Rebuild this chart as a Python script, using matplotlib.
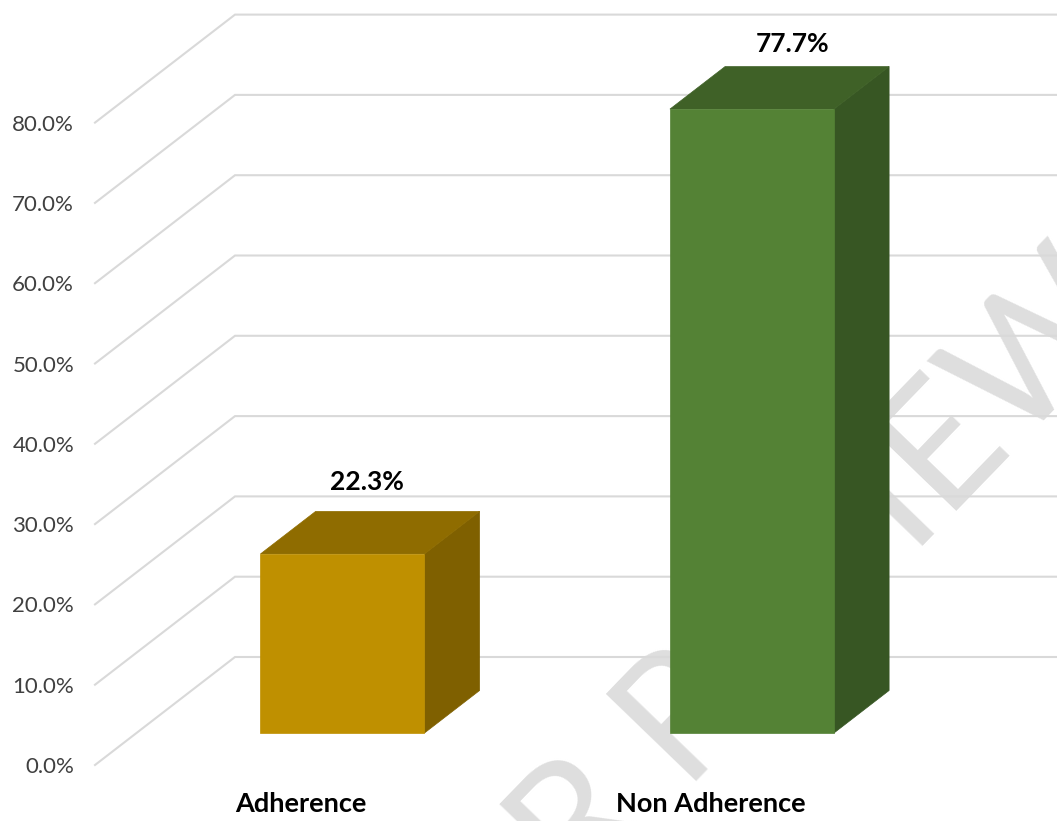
"""3D-look column chart: adherence vs non adherence."""

import matplotlib
matplotlib.use("Agg")
import matplotlib.pyplot as plt
from matplotlib.patches import Polygon

# --------------------------------------------------------------------------
# Data
# --------------------------------------------------------------------------
categories = ["Adherence", "Non Adherence"]
values = [22.3, 77.7]
value_labels = ["22.3%", "77.7%"]
y_ticks = [0, 10, 20, 30, 40, 50, 60, 70, 80]
y_tick_labels = ["0.0%", "10.0%", "20.0%", "30.0%", "40.0%", "50.0%", "60.0%", "70.0%", "80.0%"]

# --------------------------------------------------------------------------
# Config
# --------------------------------------------------------------------------
W, H = 1057, 821
X_UNIT = 409.5      # px per category
Y_UNIT = 8.03       # px per percentage point
X0_PX, Y0_PX = 301, 765   # where category 0 / 0% sit on the front plane
DEPTH_X = 140 / X_UNIT    # floor depth as data offset
DEPTH_Y = 108 / Y_UNIT
BAR_WIDTH = 164 / X_UNIT
BAR_NEAR, BAR_FAR = 0.296, 0.69
AXIS_LEFT = (95 - X0_PX) / X_UNIT

# data labels are not quite centred over the bars in the original
label_dx = [-3 / X_UNIT, 13 / X_UNIT]
label_dy = [4.8, 4.0]

front_colors = ["#BF9000", "#548235"]
top_colors = ["#8F6C00", "#3F6127"]
side_colors = ["#7F6000", "#375623"]
GRID = "#D9D9D9"

FONT = "Lato"


def project(x, y, depth):
    # oblique projection: going back moves a point right and up
    return x + depth * DEPTH_X, y + depth * DEPTH_Y


fig = plt.figure(figsize=(W / 100, H / 100), dpi=100)
ax = fig.add_axes([0, 0, 1, 1])
ax.set_xlim(-X0_PX / X_UNIT, (W - X0_PX) / X_UNIT)
ax.set_ylim((Y0_PX - H) / Y_UNIT, Y0_PX / Y_UNIT)
ax.axis("off")

# watermark sits behind everything
ax.text(1.0795, 0.609, "PEER REVIEW", transform=ax.transAxes, rotation=46, rotation_mode="anchor",
        ha="right", va="baseline", fontsize=125, family="Lato", color="#DEDEDE", zorder=0)

# --------------------------------------------------------------------------
# Grid: side wall + back wall
# --------------------------------------------------------------------------
x_right = ax.get_xlim()[1]
for t in y_ticks:
    bx, by = project(AXIS_LEFT, t, 1)
    ax.plot([AXIS_LEFT, bx, x_right], [t, by, by], color=GRID, lw=1.5, zorder=1,
            solid_joinstyle="miter")

for t, lab in zip(y_ticks, y_tick_labels):
    ax.text(AXIS_LEFT - 0.051, t - 0.25, lab, ha="right", va="center", fontsize=16, family=FONT, color="#404040")

# --------------------------------------------------------------------------
# Bars
# --------------------------------------------------------------------------
for i, v in enumerate(values):
    x1, x2 = i - BAR_WIDTH / 2, i + BAR_WIDTH / 2
    corners = {
        "bl": project(x1, 0, BAR_NEAR), "br": project(x2, 0, BAR_NEAR),
        "tl": project(x1, v, BAR_NEAR), "tr": project(x2, v, BAR_NEAR),
        "bbr": project(x2, 0, BAR_FAR),
        "btl": project(x1, v, BAR_FAR), "btr": project(x2, v, BAR_FAR),
    }
    ax.add_patch(Polygon([corners["br"], corners["bbr"], corners["btr"], corners["tr"]],
                         fc=side_colors[i], ec=side_colors[i], lw=0.5, zorder=2))
    ax.add_patch(Polygon([corners["tl"], corners["tr"], corners["btr"], corners["btl"]],
                         fc=top_colors[i], ec=top_colors[i], lw=0.5, zorder=2))
    ax.add_patch(Polygon([corners["bl"], corners["br"], corners["tr"], corners["tl"]],
                         fc=front_colors[i], ec=front_colors[i], lw=0.5, zorder=3))

    lx, ly = project(i, v, (BAR_NEAR + BAR_FAR) / 2)
    ax.text(lx + label_dx[i], ly + label_dy[i], value_labels[i], ha="center", va="bottom", fontsize=19,
            fontweight="bold", family=FONT, color="black", zorder=4)
    ax.text(i, -4.9, categories[i], ha="center", va="center", fontsize=19.5,
            fontweight="bold", family=FONT, color="black", zorder=4)

fig.savefig("out.png", dpi=100)
